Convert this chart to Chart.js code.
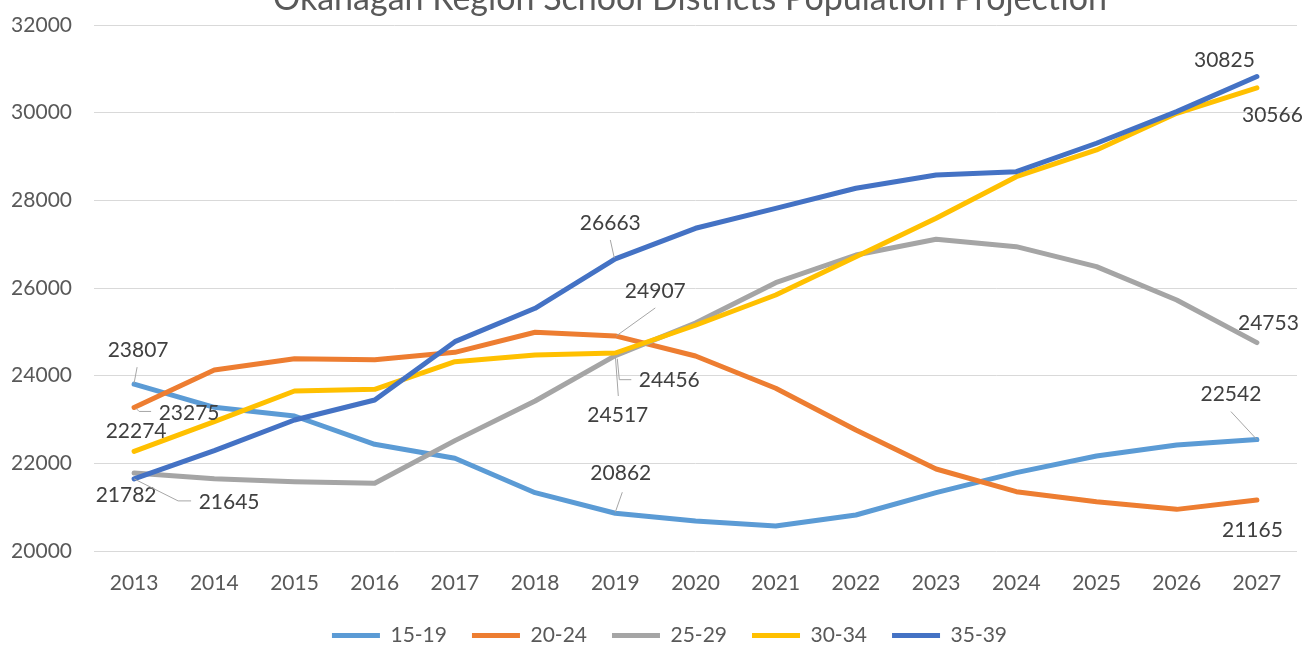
<!DOCTYPE html>
<html>
<head>
<meta charset="utf-8">
<script src="https://cdn.jsdelivr.net/npm/chart.js@4.4.1/dist/chart.umd.min.js"></script>
<style>
html, body { margin: 0; padding: 0; background: #fff; }
</style>
</head>
<body>
<canvas id="popChart" width="1304" height="647"></canvas>
<script>
const chartTitle = 'Okanagan Region School Districts Population Projection';
const years = ['2013', '2014', '2015', '2016', '2017', '2018', '2019', '2020',
               '2021', '2022', '2023', '2024', '2025', '2026', '2027'];
const seriesNames = ['15-19', '20-24', '25-29', '30-34', '35-39'];
const seriesColors = ['#5B9BD5', '#ED7D31', '#A5A5A5', '#FFC000', '#4472C4'];

const age15to19 = [23807, 23278, 23080, 22434, 22115, 21330, 20862, 20684, 20570, 20821, 21331, 21787, 22167, 22418, 22542];
const age20to24 = [23275, 24130, 24388, 24365, 24533, 24990, 24907, 24449, 23712, 22760, 21871, 21353, 21125, 20950, 21165];
const age25to29 = [21782, 21650, 21582, 21545, 22518, 23422, 24456, 25200, 26122, 26753, 27111, 26943, 26487, 25727, 24753];
const age30to34 = [22274, 22950, 23650, 23689, 24320, 24472, 24517, 25150, 25841, 26715, 27590, 28540, 29149, 29986, 30566];
const age35to39 = [21645, 22289, 22989, 23445, 24776, 25537, 26663, 27362, 27818, 28275, 28578, 28654, 29302, 30023, 30825];

const yMin = 20000;
const yMax = 32000;
const yStep = 2000;

// points that show their value: series, year index, label offset, leader line (relative to the point)
const pointLabels = [
    { series: 0, index: 0,  dx: 4,   dy: -34,  leader: [[0, -1], [3, -17]] },
    { series: 1, index: 0,  dx: 55,  dy: 5.5,  leader: [[2, 1], [5, 4], [17, 4]] },
    { series: 3, index: 0,  dx: 2,   dy: -20 },
    { series: 2, index: 0,  dx: -8,  dy: 22 },
    { series: 4, index: 0,  dx: 95,  dy: 23.5, leader: [[0, 0], [44, 22], [57, 22]] },
    { series: 4, index: 6,  dx: -5,  dy: -35.5, leader: [[-1, -1], [-5, -19]] },
    { series: 1, index: 6,  dx: 40,  dy: -44.5, leader: [[1, 0], [40, -28]] },
    { series: 2, index: 6,  dx: 54,  dy: 25,   leader: [[2, 3], [4, 24], [16, 24]] },
    { series: 3, index: 6,  dx: 2.5, dy: 62,   leader: [[0, 2], [3, 43]] },
    { series: 0, index: 6,  dx: 5.5, dy: -39.5, leader: [[0, -1], [7, -21]] },
    { series: 4, index: 14, dx: -32.5, dy: -16 },
    { series: 3, index: 14, dx: 15.5, dy: 27 },
    { series: 2, index: 14, dx: 11.5, dy: -19 },
    { series: 0, index: 14, dx: -26, dy: -45.5, leader: [[0, 0], [-26, -28]] },
    { series: 1, index: 14, dx: -4.5, dy: 30.5 }
];

const seriesValues = [age15to19, age20to24, age25to29, age30to34, age35to39];

Chart.defaults.font.family = 'Lato';
Chart.defaults.font.size = 21;
Chart.defaults.color = '#595959';

// title sits partly above the canvas edge, like in the original
const clippedTitle = {
    id: 'clippedTitle',
    afterDraw: function(chart) {
        const ctx = chart.ctx;
        ctx.save();
        ctx.font = '34px Lato';
        ctx.fillStyle = '#595959';
        ctx.textAlign = 'center';
        ctx.textBaseline = 'alphabetic';
        ctx.fillText(chartTitle, 690, 10);
        ctx.restore();
    }
};

// legend in the original sits a bit right of centre
const legendShift = {
    id: 'legendShift',
    afterLayout: function(chart) {
        chart.legend.left += 21;
        chart.legend.right += 21;
    }
};

const valueLabels = {
    id: 'valueLabels',
    afterDatasetsDraw: function(chart) {
        const ctx = chart.ctx;
        ctx.save();
        pointLabels.forEach(function(lbl) {
            const pt = chart.getDatasetMeta(lbl.series).data[lbl.index];
            const value = chart.data.datasets[lbl.series].data[lbl.index];
            if (lbl.leader) {
                ctx.beginPath();
                ctx.strokeStyle = '#A6A6A6';
                ctx.lineWidth = 1;
                lbl.leader.forEach(function(p, k) {
                    if (k === 0) ctx.moveTo(pt.x + p[0], pt.y + p[1]);
                    else ctx.lineTo(pt.x + p[0], pt.y + p[1]);
                });
                ctx.stroke();
            }
            ctx.font = '21px Lato';
            ctx.fillStyle = '#404040';
            ctx.textAlign = 'center';
            ctx.textBaseline = 'middle';
            ctx.fillText(String(value), pt.x + lbl.dx, pt.y + lbl.dy);
        });
        ctx.restore();
    }
};

let datasets = seriesNames.map(function(name, i) {
    return {
        label: name,
        data: seriesValues[i],
        borderColor: seriesColors[i],
        backgroundColor: seriesColors[i],
        borderWidth: 5,
        borderCapStyle: 'round',
        borderJoinStyle: 'round',
        pointRadius: 0,
        pointHoverRadius: 0,
        tension: 0,
        order: seriesNames.length - i   // later series drawn on top
    };
});

let ctx = document.getElementById('popChart').getContext('2d');
new Chart(ctx, {
    type: 'line',
    data: {
        labels: years,
        datasets: datasets
    },
    options: {
        responsive: false,
        animation: false,
        layout: {
            padding: { top: 25, right: 7, left: 0, bottom: 0 }
        },
        scales: {
            x: {
                offset: true,
                grid: { display: false },
                border: { display: false },
                ticks: { padding: 12, color: '#595959', maxRotation: 0 },
                afterFit: function(scale) { scale.height = 49; }
            },
            y: {
                min: yMin,
                max: yMax,
                grid: { color: '#D9D9D9', lineWidth: 1, drawTicks: false },
                border: { display: false },
                ticks: {
                    stepSize: yStep,
                    padding: 22,
                    color: '#595959',
                    callback: function(v) { return String(v); }
                },
                afterFit: function(scale) {
                    scale.width = 94;
                    scale.paddingTop = 0;
                    scale.paddingBottom = 0;
                }
            }
        },
        plugins: {
            title: { display: false },
            tooltip: { enabled: false },
            legend: {
                position: 'bottom',
                maxHeight: 47,
                labels: {
                    usePointStyle: true,
                    pointStyle: 'line',
                    pointStyleWidth: 48,
                    padding: 25,
                    color: '#595959',
                    font: { size: 21 },
                    sort: function(a, b) { return a.datasetIndex - b.datasetIndex; }
                }
            }
        }
    },
    plugins: [clippedTitle, legendShift, valueLabels]
});
</script>
</body>
</html>
